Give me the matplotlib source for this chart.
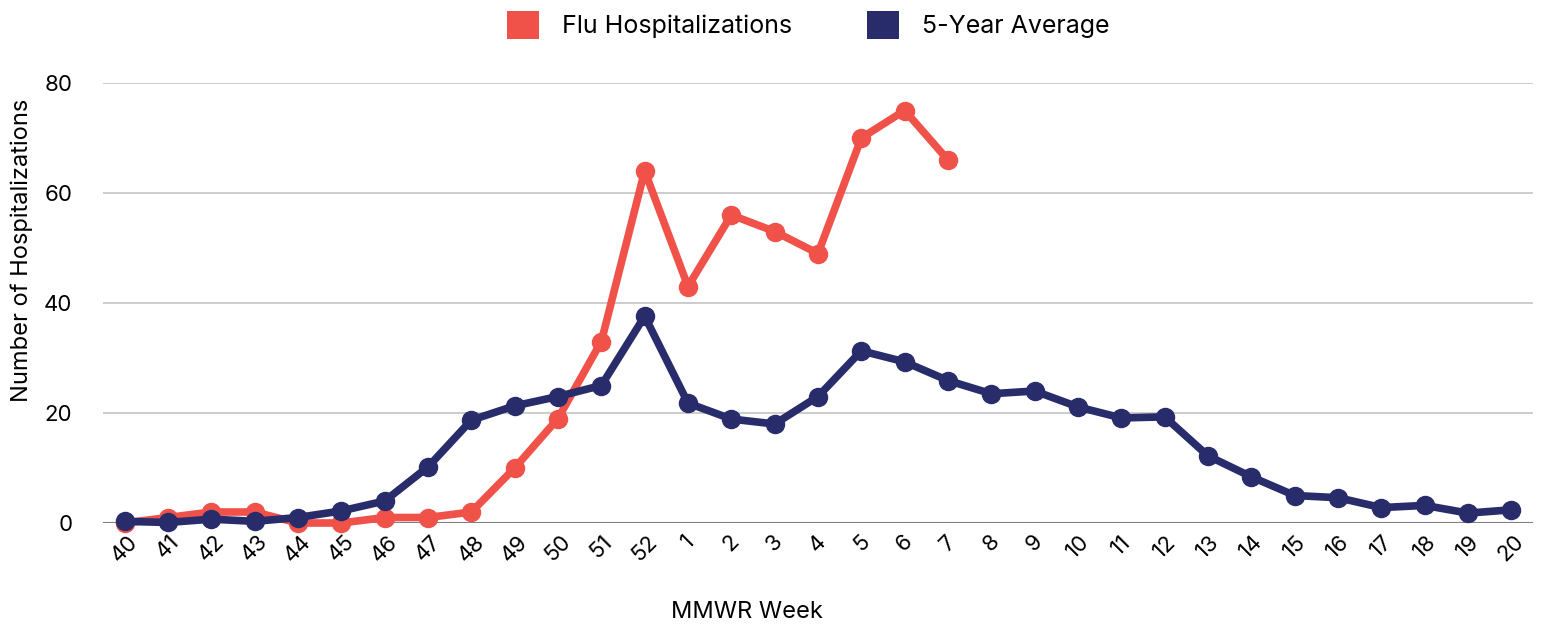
import numpy as np
import matplotlib.pyplot as plt
from matplotlib.patches import Patch

# date
saptamani = ["40", "41", "42", "43", "44", "45", "46", "47", "48", "49", "50", "51", "52",
             "1", "2", "3", "4", "5", "6", "7", "8", "9", "10", "11", "12", "13", "14",
             "15", "16", "17", "18", "19", "20"]
spitalizari_gripa = [0, 1, 2, 2, 0, 0, 1, 1, 2, 10, 19, 33, 64, 43, 56, 53, 49, 70, 75, 66]
medie_5_ani = [0.3, 0.1, 0.7, 0.3, 1.0, 2.2, 4.0, 10.2, 18.7, 21.3, 23.0, 25.0, 37.6,
               21.8, 18.9, 18.0, 23.0, 31.3, 29.3, 25.9, 23.5, 24.0, 21.1, 19.1, 19.3,
               12.2, 8.4, 5.0, 4.6, 2.8, 3.2, 1.8, 2.4]

rosu = "#F0524A"
bleumarin = "#292C6B"

plt.rcParams['font.family'] = ['Inter', 'DejaVu Sans']

fig = plt.figure(figsize=(15.43, 6.26), dpi=100)
ax = fig.add_axes([103 / 1543, 1 - 523 / 626, (1533 - 103) / 1543, (523 - 83) / 626])

x = np.arange(len(saptamani))
ax.plot(x, medie_5_ani, color=bleumarin, lw=5.5, marker="o", ms=13, clip_on=False, zorder=3)
ax.plot(x[:len(spitalizari_gripa)], spitalizari_gripa, color=rosu, lw=5.5, marker="o", ms=13,
        clip_on=False, zorder=2)

ax.set_xlim(-0.5, len(saptamani) - 0.5)
ax.set_ylim(0, 80)
ax.set_yticks([0, 20, 40, 60, 80])
ax.set_xticks(x)
ax.set_xticklabels(saptamani, rotation=45, ha="center", fontsize=16)
ax.tick_params(axis="y", labelsize=16, length=0, pad=22)
ax.tick_params(axis="x", length=0, pad=6)
ax.grid(axis="y", color="#C8C8C8", lw=1.3)
ax.axhline(0, color="#7F7F7F", lw=1.5, zorder=1)
for s in ax.spines.values():
    s.set_visible(False)
ax.set_axisbelow(True)

ax.set_ylabel("Number of Hospitalizations", fontsize=17)
ax.yaxis.set_label_coords(-0.049, 0.62)
fig.text(747 / 1543, 1 - 612 / 626, "MMWR Week", fontsize=17, ha="center", va="center")

handles = [Patch(facecolor=rosu, label="Flu Hospitalizations"),
           Patch(facecolor=bleumarin, label="5-Year Average")]
fig.legend(handles=handles, loc="center", bbox_to_anchor=(808 / 1543, 1 - 25 / 626), ncol=2,
           frameon=False, fontsize=18, handlelength=1.3, handleheight=1.3,
           columnspacing=3.0, handletextpad=0.9)

fig.savefig("out.png", dpi=100)
